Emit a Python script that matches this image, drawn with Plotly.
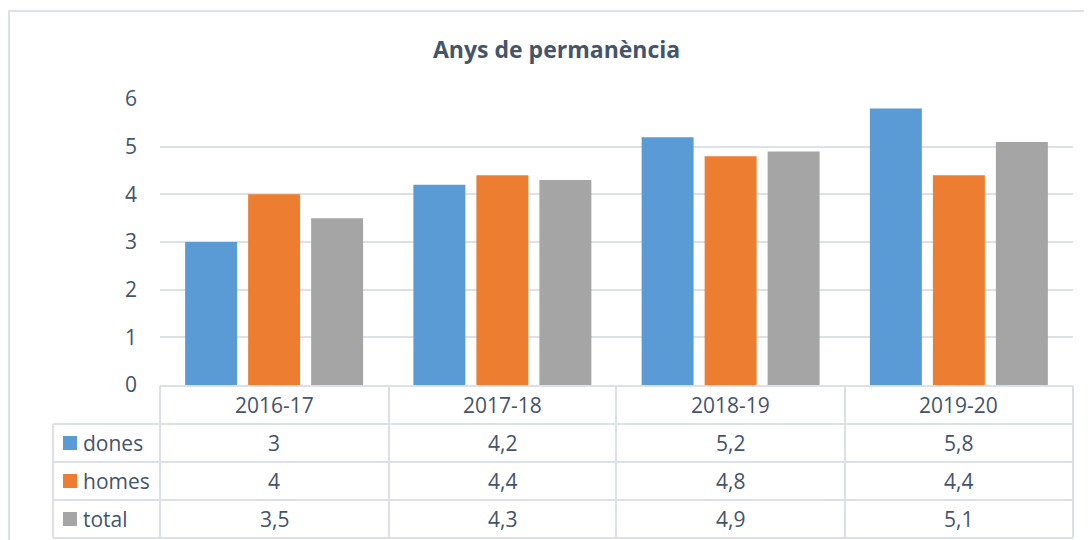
import plotly.graph_objects as go

categories = ["2016-17", "2017-18", "2018-19", "2019-20"]
dones = [3, 4.2, 5.2, 5.8]
homes = [4, 4.4, 4.8, 4.4]
total = [3.5, 4.3, 4.9, 5.1]
series_names = ["dones", "homes", "total"]
series_values = [dones, homes, total]
series_colors = ["#5b9bd5", "#ed7d31", "#a5a5a5"]
y_ticks = [0, 1, 2, 3, 4, 5, 6]

OFF = 8  # browser body margin
W, H = 1092 - OFF, 540 - OFF
PL, PR, PT, PB = 160, 1073, 99, 385  # plot area in page pixels
ML, MR, MT, MB = PL - OFF, W - (PR - OFF), PT - OFF, H - (PB - OFF)
PW = PR - PL
PH = PB - PT

FONT = "Open Sans"
TXT = "#44546a"
LINE = "#dde1e7"


def px(x):
    return (x - PL) / PW


def py(y):
    return (PB - y) / PH


def fmt(v):
    return ("%g" % v).replace(".", ",")


fig = go.Figure()
for name, vals, col in zip(series_names, series_values, series_colors):
    fig.add_trace(go.Bar(x=categories, y=vals, name=name,
                         marker=dict(color=col, line=dict(width=0)),
                         showlegend=False))

shapes = []
annotations = []

# outer chart border
shapes.append(dict(type="rect", xref="paper", yref="paper",
                   x0=px(9), x1=px(1110), y0=py(560), y1=py(11),
                   line=dict(color=LINE, width=2), fillcolor="rgba(0,0,0,0)", layer="below"))

# table geometry
row_tops = [386, 424, 462, 500, 538]
col_edges = [160, 389, 616, 845, 1073]
shapes.append(dict(type="line", xref="paper", yref="paper",
                   x0=px(160), x1=px(1073), y0=py(386), y1=py(386),
                   line=dict(color=LINE, width=2)))
for yy in row_tops[1:]:
    shapes.append(dict(type="line", xref="paper", yref="paper",
                       x0=px(53), x1=px(1073), y0=py(yy), y1=py(yy),
                       line=dict(color=LINE, width=2)))
for xx in col_edges:
    shapes.append(dict(type="line", xref="paper", yref="paper",
                       x0=px(xx), x1=px(xx), y0=py(386), y1=py(538),
                       line=dict(color=LINE, width=2)))
shapes.append(dict(type="line", xref="paper", yref="paper",
                   x0=px(53), x1=px(53), y0=py(424), y1=py(538),
                   line=dict(color=LINE, width=2)))

# header labels
for c in categories:
    annotations.append(dict(x=c, xref="x", y=py(405), yref="paper", text=c,
                            showarrow=False, xanchor="center", yanchor="middle",
                            font=dict(family=FONT, size=21, color=TXT)))

# rows
for i, (name, vals, col) in enumerate(zip(series_names, series_values, series_colors)):
    yc = (row_tops[i + 1] + row_tops[i + 2]) / 2
    shapes.append(dict(type="rect", xref="paper", yref="paper",
                       x0=px(63), x1=px(77), y0=py(yc + 7), y1=py(yc - 7),
                       fillcolor=col, line=dict(width=0)))
    annotations.append(dict(x=px(81), xref="paper", y=py(yc), yref="paper", text=name,
                            showarrow=False, xanchor="left", yanchor="middle",
                            font=dict(family=FONT, size=21, color=TXT)))
    for c, v in zip(categories, vals):
        annotations.append(dict(x=c, xref="x", y=py(yc), yref="paper", text=fmt(v),
                                showarrow=False, xanchor="center", yanchor="middle",
                                font=dict(family=FONT, size=21, color=TXT)))

# title
annotations.append(dict(x=px(556), xref="paper", y=py(49), yref="paper",
                        text="<b>Anys de permanència</b>", showarrow=False,
                        xanchor="center", yanchor="middle",
                        font=dict(family=FONT, size=23, color=TXT)))

fig.update_layout(
    width=W, height=H,
    margin=dict(l=ML, r=MR, t=MT, b=MB, pad=0),
    paper_bgcolor="white", plot_bgcolor="white",
    barmode="group", bargap=0.172, bargroupgap=0.175,
    shapes=shapes, annotations=annotations,
    showlegend=False,
    xaxis=dict(showticklabels=False, showgrid=False, zeroline=False, showline=False,
               ticks="", range=[-0.5, 3.5], fixedrange=True),
    yaxis=dict(range=[0, 6], tickvals=y_ticks, showgrid=True, gridcolor=LINE, gridwidth=2,
               zeroline=False, showline=False, ticks="", ticklabelstandoff=22,
               tickfont=dict(family=FONT, size=21, color=TXT), fixedrange=True),
)

fig.write_html("out.html")
